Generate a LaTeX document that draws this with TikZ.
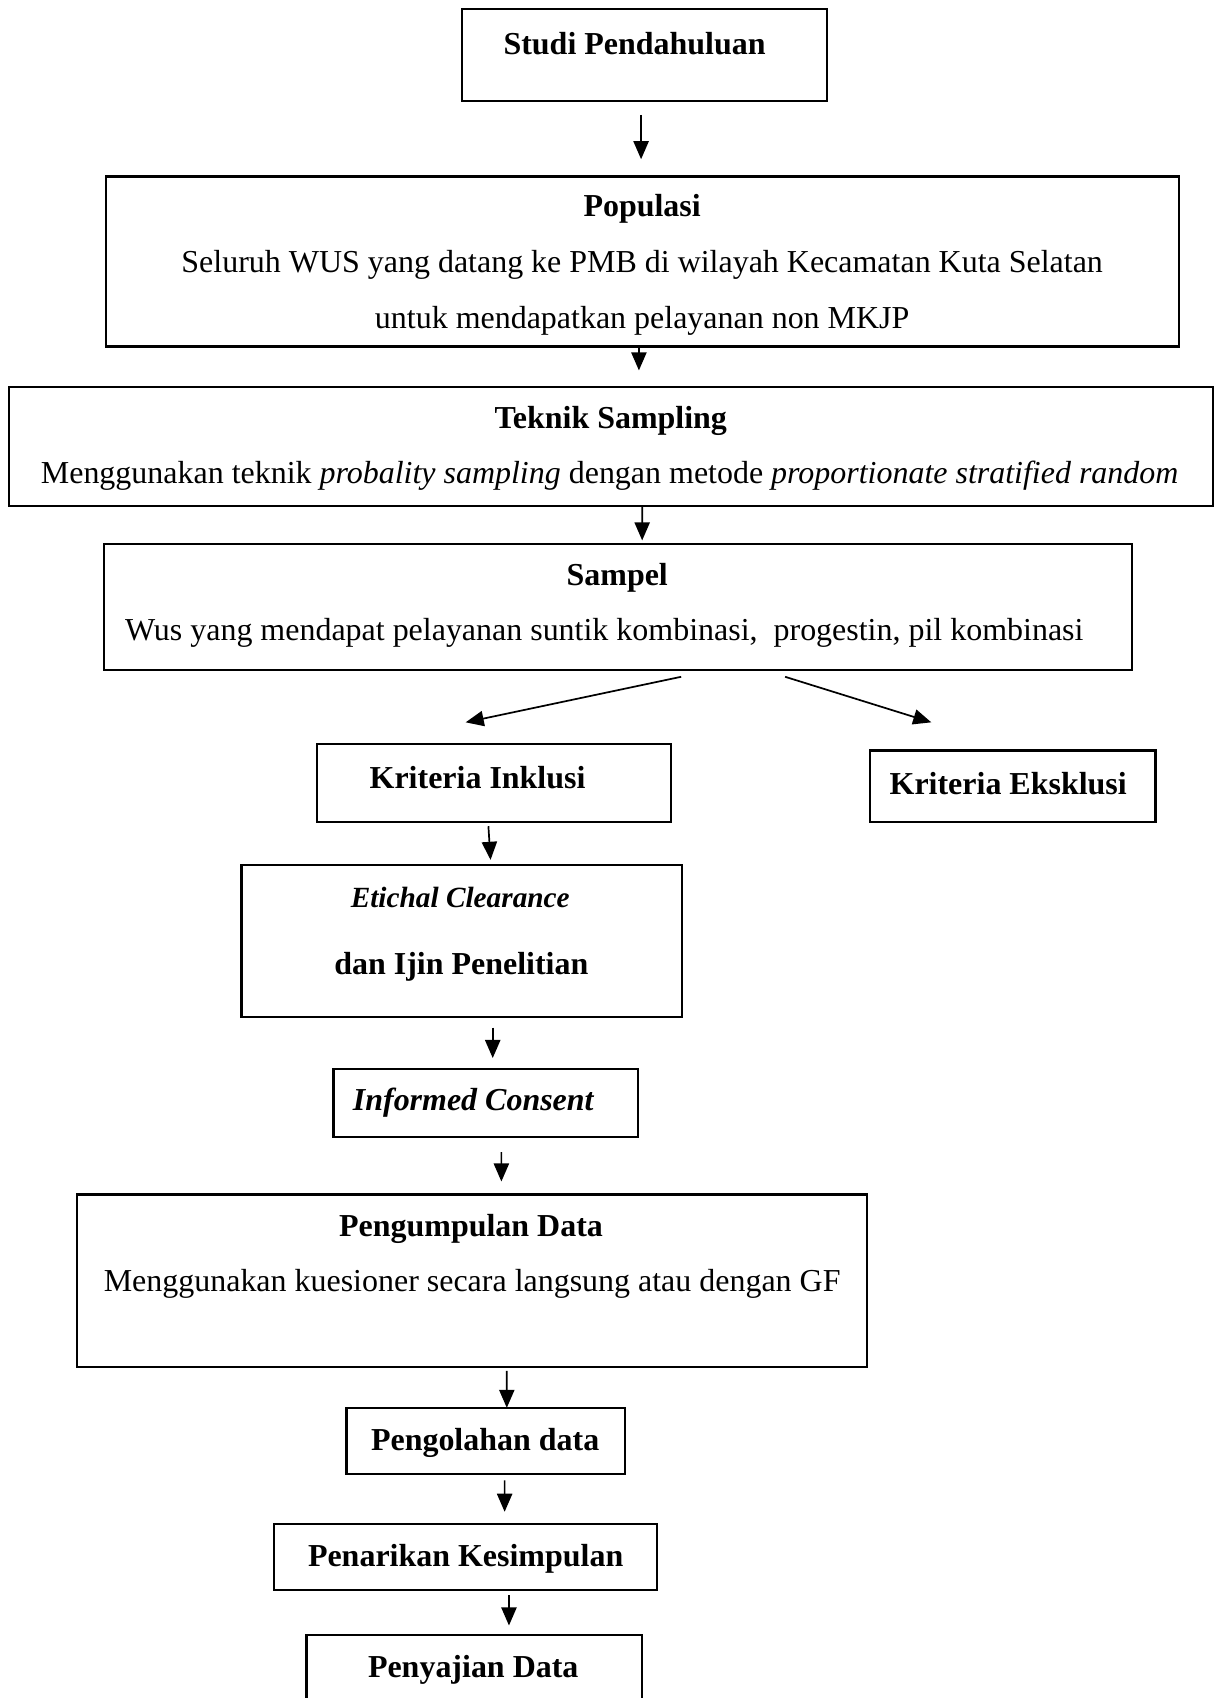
\documentclass[tikz,border=0pt]{standalone}
\usepackage{fontspec}
\setmainfont{Liberation Serif}
\usepackage{tikz}
\usetikzlibrary{arrows.meta, calc}
\tikzset{
  box/.style={rectangle, draw=black, line width=1.1pt, inner sep=0pt},
  ttl/.style={font=\fontsize{16.8}{20}\selectfont\bfseries, inner sep=0pt, yshift=-0.06cm},
  txt/.style={font=\fontsize{16.8}{20}\selectfont, inner sep=0pt, yshift=-0.06cm},
  arrow/.style={-{Triangle[length=9.5pt, width=8pt]}, line width=0.9pt},
}
\begin{document}
\begin{tikzpicture}[x=0.02cm, y=-0.02cm]
  \useasboundingbox (0,0) rectangle (1121,1568);

  % Top of the flow
  \node[box, minimum width=337*0.02cm, minimum height=85*0.02cm] (studi) at (595.5,50.5) {};
  \node[ttl] (studiT) at (586,37) {Studi Pendahuluan};

  \node[box, minimum width=991*0.02cm, minimum height=157*0.02cm] (populasi) at (593.5,241.5) {};
  \node[ttl] (populasiT) at (593,190) {Populasi};
  \node[txt] (populasiA) at (593,242) {Seluruh WUS yang datang ke PMB di wilayah Kecamatan Kuta Selatan};
  \node[txt] (populasiB) at (593,293) {untuk mendapatkan pelayanan non MKJP};

  \node[box, minimum width=1112*0.02cm, minimum height=110*0.02cm] (teknik) at (564,412) {};
  \node[ttl] (teknikT) at (564,386) {Teknik Sampling};
  \node[txt] (teknikA) at (563,436) {Menggunakan teknik \textit{probality sampling} dengan metode \textit{proportionate stratified random}};

  \node[box, minimum width=949*0.02cm, minimum height=117*0.02cm] (sampel) at (570.5,560.5) {};
  \node[ttl] (sampelT) at (570,531) {Sampel};
  \node[txt] (sampelA) at (558,581) {Wus yang mendapat pelayanan suntik kombinasi,\ \ progestin, pil kombinasi};

  % Criteria
  \node[box, minimum width=327*0.02cm, minimum height=72*0.02cm] (inklusi) at (456.5,723) {};
  \node[ttl] (inklusiT) at (441,715) {Kriteria Inklusi};

  \node[box, minimum width=264*0.02cm, minimum height=66*0.02cm] (eksklusi) at (935,726) {};
  \node[ttl] (eksklusiT) at (931,721) {Kriteria Eksklusi};

  % Ethics and consent
  \node[box, minimum width=407*0.02cm, minimum height=140*0.02cm] (etik) at (426.5,869) {};
  \node[ttl, font=\fontsize{15.4}{18}\selectfont\bfseries\itshape] (etikT) at (425,826) {Etichal Clearance};
  \node[ttl] (etikA) at (426,890) {dan Ijin Penelitian};

  \node[box, minimum width=281*0.02cm, minimum height=63*0.02cm] (consent) at (448.5,1018.5) {};
  \node[ttl, font=\fontsize{16.8}{20}\selectfont\bfseries\itshape] (consentT) at (437,1015) {Informed Consent};

  % Data
  \node[box, minimum width=730*0.02cm, minimum height=159*0.02cm] (kumpul) at (436,1182.5) {};
  \node[ttl] (kumpulT) at (435,1132) {Pengumpulan Data};
  \node[txt] (kumpulA) at (436,1183) {Menggunakan kuesioner secara langsung atau dengan GF};

  \node[box, minimum width=257*0.02cm, minimum height=61*0.02cm] (olah) at (448.5,1330.5) {};
  \node[ttl] (olahT) at (448,1329) {Pengolahan data};

  \node[box, minimum width=354*0.02cm, minimum height=61*0.02cm] (tarik) at (430,1437.5) {};
  \node[ttl] (tarikT) at (430,1436) {Penarikan Kesimpulan};

  \node[box, minimum width=310*0.02cm, minimum height=80*0.02cm] (saji) at (438,1550) {};
  \node[ttl] (sajiT) at (437,1539) {Penyajian Data};

  % Arrows
  \draw[arrow] ($(studi.south)+(-3.5,12)$) -- ($(populasi.north)+(-1.5,-15)$);
  \draw[arrow] ($(populasi.south)+(-3.5,0)$) -- ($(teknik.north)+(26,-14)$);
  \draw[arrow] ($(teknik.south)+(29,0)$) -- ($(sampel.north)+(22.5,-2)$);
  \draw[arrow] ($(sampel.south)+(58.5,5)$) -- ($(inklusi.north)+(-26.5,-19)$);
  \draw[arrow] ($(sampel.south)+(154.5,5)$) -- ($(eksklusi.north)+(-75,-25)$);
  \draw[arrow] ($(inklusi.south)+(-5.5,3)$) -- ($(etik.north)+(26.5,-4)$);
  \draw[arrow] ($(etik.south)+(28.5,9)$) -- ($(consent.north)+(6.5,-9)$);
  \draw[arrow] ($(consent.south)+(14.5,13)$) -- ($(kumpul.north)+(27,-11)$);
  \draw[arrow] ($(kumpul.south)+(32,3)$) -- ($(olah.north)+(19.5,1)$);
  \draw[arrow] ($(olah.south)+(17.5,5)$) -- ($(tarik.north)+(36,-10)$);
  \draw[arrow] ($(tarik.south)+(40,4)$) -- ($(saji.north)+(32,-8)$);
\end{tikzpicture}
\end{document}
